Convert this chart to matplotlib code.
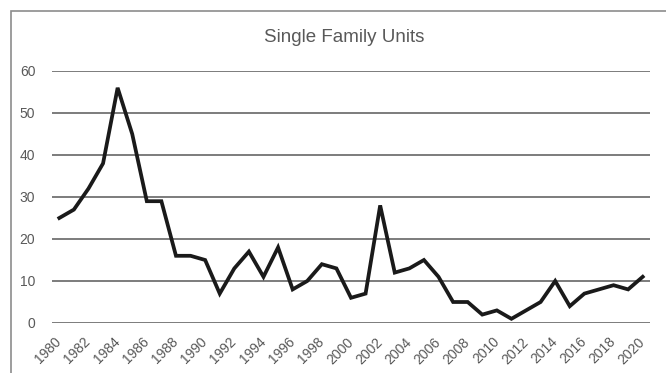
import numpy as np
import matplotlib
matplotlib.use("Agg")
import matplotlib.pyplot as plt
from matplotlib.patches import Rectangle

plt.rcParams['font.family'] = ['Liberation Sans', 'DejaVu Sans']

years = list(range(1980, 2021))
units = [25, 27, 32, 38, 56, 45, 29, 29, 16, 16,
         15, 7, 13, 17, 11, 18, 8, 10, 14, 13,
         6, 7, 28, 12, 13, 15, 11, 5, 5, 2,
         3, 1, 3, 5, 10, 4, 7, 8, 9, 8,
         11]
y_ticks = [0, 10, 20, 30, 40, 50, 60]
title = "Single Family Units"

W, H = 666, 373
fig = plt.figure(figsize=(W / 100, H / 100), dpi=100)

# chart border (cropped on right and bottom)
fig.add_artist(Rectangle((11 / W, -0.1), 1.2, 1 - 11 / H + 0.1, transform=fig.transFigure,
                         fill=False, edgecolor='#8c8c8c', linewidth=1.2))

ax = fig.add_axes([52 / W, 1 - 323 / H, (650 - 52) / W, (323 - 71) / H])
x = np.arange(len(years))
ax.plot(x, units, color='#1a1a1a', linewidth=2.7, solid_joinstyle='miter')

ax.set_xlim(-0.5, len(years) - 0.5)
ax.set_ylim(0, 60)
ax.set_yticks(y_ticks)
ax.set_yticklabels([str(t) for t in y_ticks], fontsize=10, color='#595959')
ax.set_xticks(x[::2])
ax.set_xticklabels([str(y) for y in years[::2]], rotation=45, ha='right', va='center',
                   rotation_mode='anchor', fontsize=10, color='#595959')
ax.tick_params(axis='y', length=0, pad=12)
ax.tick_params(axis='x', length=0, pad=12)

ax.grid(axis='y', color='#595959', linewidth=1.1)
ax.set_axisbelow(True)
for s in ax.spines.values():
    s.set_visible(False)

fig.text(344 / W, 1 - 37 / H, title, ha='center', va='center',
         fontsize=13.5, color='#595959')

fig.savefig('out.png', dpi=100)
